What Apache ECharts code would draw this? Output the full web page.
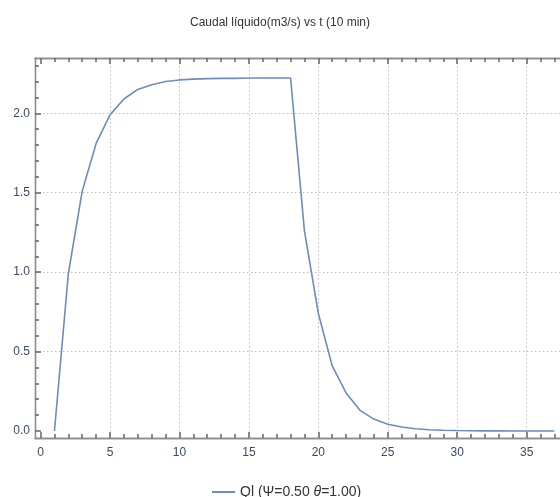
<!DOCTYPE html>
<html>
<head>
<meta charset="utf-8">
<script src="https://cdn.jsdelivr.net/npm/echarts@6/dist/echarts.min.js"></script>
<style>html,body{margin:0;padding:0;background:#fff}#c{width:560px;height:497px}</style>
</head>
<body>
<div id="c"></div>
<script>
const titleText = 'Caudal líquido(m3/s) vs t (10 min)';
const seriesName = 'Ql (Ψ=0.50 θ=1.00)';
const tValues = [1,2,3,4,5,6,7,8,9,10,11,12,13,14,15,16,17,18,19,20,21,22,23,24,25,26,27,28,29,30,31,32,33,34,35,36,37];
const qValues = [0,0.99,1.51,1.81,1.99,2.09,2.15,2.18,2.20,2.21,2.215,2.218,2.22,2.22,2.222,2.222,2.222,2.222,1.26,0.74,0.41,0.24,0.13,0.075,0.043,0.025,0.014,0.008,0.005,0.003,0.002,0.001,0.001,0.0005,0,0,0];
const xMajorTicks = [0,5,10,15,20,25,30,35];
const xMinorTicks = [1,2,3,4,6,7,8,9,11,12,13,14,16,17,18,19,21,22,23,24,26,27,28,29,31,32,33,34,36,37];
const xGridLines = [5,10,15,20,25,30,35];
const yMajorTicks = [0,0.5,1,1.5,2];
const yMinorTicks = [0.1,0.2,0.3,0.4,0.6,0.7,0.8,0.9,1.1,1.2,1.3,1.4,1.6,1.7,1.8,1.9,2.1,2.2,2.3];
const yGridLines = [0.5,1,1.5,2];

const X_MIN = -0.4, X_MAX = 37.4, Y_MIN = -0.044, Y_MAX = 2.348;
const tickColor = '#666666';
const labelColor = '#3b4a5e';
const font = 'Liberation Sans, Arial, sans-serif';
const gridRect = {left: 35, right: 0, top: 58, bottom: 59, containLabel: false};

function ax(kind, pos, ticks, len, labels, grid, gridIndex) {
  const isX = kind === 'x';
  return {
    type: 'value', position: pos, gridIndex: gridIndex,
    min: isX ? X_MIN : Y_MIN, max: isX ? X_MAX : Y_MAX,
    axisLine: {show: !grid, onZero: false, lineStyle: {color: '#8c8c8c', width: 1.3}},
    axisTick: {show: !grid, inside: true, length: len, customValues: ticks, lineStyle: {color: tickColor, width: 1.5}},
    axisLabel: labels ? {show: true, customValues: labels, color: labelColor, fontFamily: font, fontSize: 12,
      margin: isX ? 9 : 5, formatter: v => isX ? String(v) : v.toFixed(1)} : {show: false},
    splitLine: grid ? {show: true, lineStyle: {color: '#bdbdbd', type: [1.5, 2.5], width: 1}} : {show: false}
  };
}

const chart = echarts.init(document.getElementById('c'));
chart.setOption({
  animation: false,
  backgroundColor: '#fff',
  title: {text: titleText, left: 'center', top: 12, textStyle: {fontFamily: font, fontSize: 12, fontWeight: 'normal', color: '#333'}},
  grid: [gridRect, gridRect, gridRect],
  xAxis: [
    ax('x', 'bottom', xMajorTicks, 6, xMajorTicks, false, 0),
    ax('x', 'top', xMajorTicks, 6, null, false, 0),
    ax('x', 'bottom', xMinorTicks, 4, null, false, 1),
    ax('x', 'top', xMinorTicks, 4, null, false, 1),
    ax('x', 'bottom', xGridLines, 0, null, true, 2)
  ],
  yAxis: [
    ax('y', 'left', yMajorTicks, 6, yMajorTicks, false, 0),
    ax('y', 'left', yMinorTicks, 4, null, false, 1),
    ax('y', 'left', yGridLines, 0, null, true, 2)
  ],
  legend: {
    show: true, left: 207, top: 480, itemWidth: 23, itemHeight: 2, itemGap: 7,
    data: [{name: seriesName, icon: 'rect'}],
    formatter: () => '{a|Ql (Ψ=0.50 }{b|θ}{a|=1.00)}',
    textStyle: {fontFamily: font, fontSize: 14, color: '#333',
      rich: {a: {fontFamily: font, fontSize: 14, color: '#333'}, b: {fontFamily: font, fontSize: 14, color: '#333', fontStyle: 'italic'}}}
  },
  series: [
    {name: seriesName, type: 'line', xAxisIndex: 0, yAxisIndex: 0,
     data: tValues.map((t, i) => [t, qValues[i]]),
     symbol: 'none', smooth: false, z: 5,
     lineStyle: {color: '#6a8cc0', width: 1.6}, itemStyle: {color: '#6a8cc0'}},
    {name: '_a', type: 'line', xAxisIndex: 1, yAxisIndex: 0, data: [[0, 0]], symbol: 'none', lineStyle: {opacity: 0}},
    {name: '_b', type: 'line', xAxisIndex: 2, yAxisIndex: 1, data: [[0, 0]], symbol: 'none', lineStyle: {opacity: 0}},
    {name: '_c', type: 'line', xAxisIndex: 3, yAxisIndex: 1, data: [[0, 0]], symbol: 'none', lineStyle: {opacity: 0}},
    {name: '_d', type: 'line', xAxisIndex: 4, yAxisIndex: 2, data: [[0, 0]], symbol: 'none', lineStyle: {opacity: 0}}
  ]
});
</script>
</body>
</html>
